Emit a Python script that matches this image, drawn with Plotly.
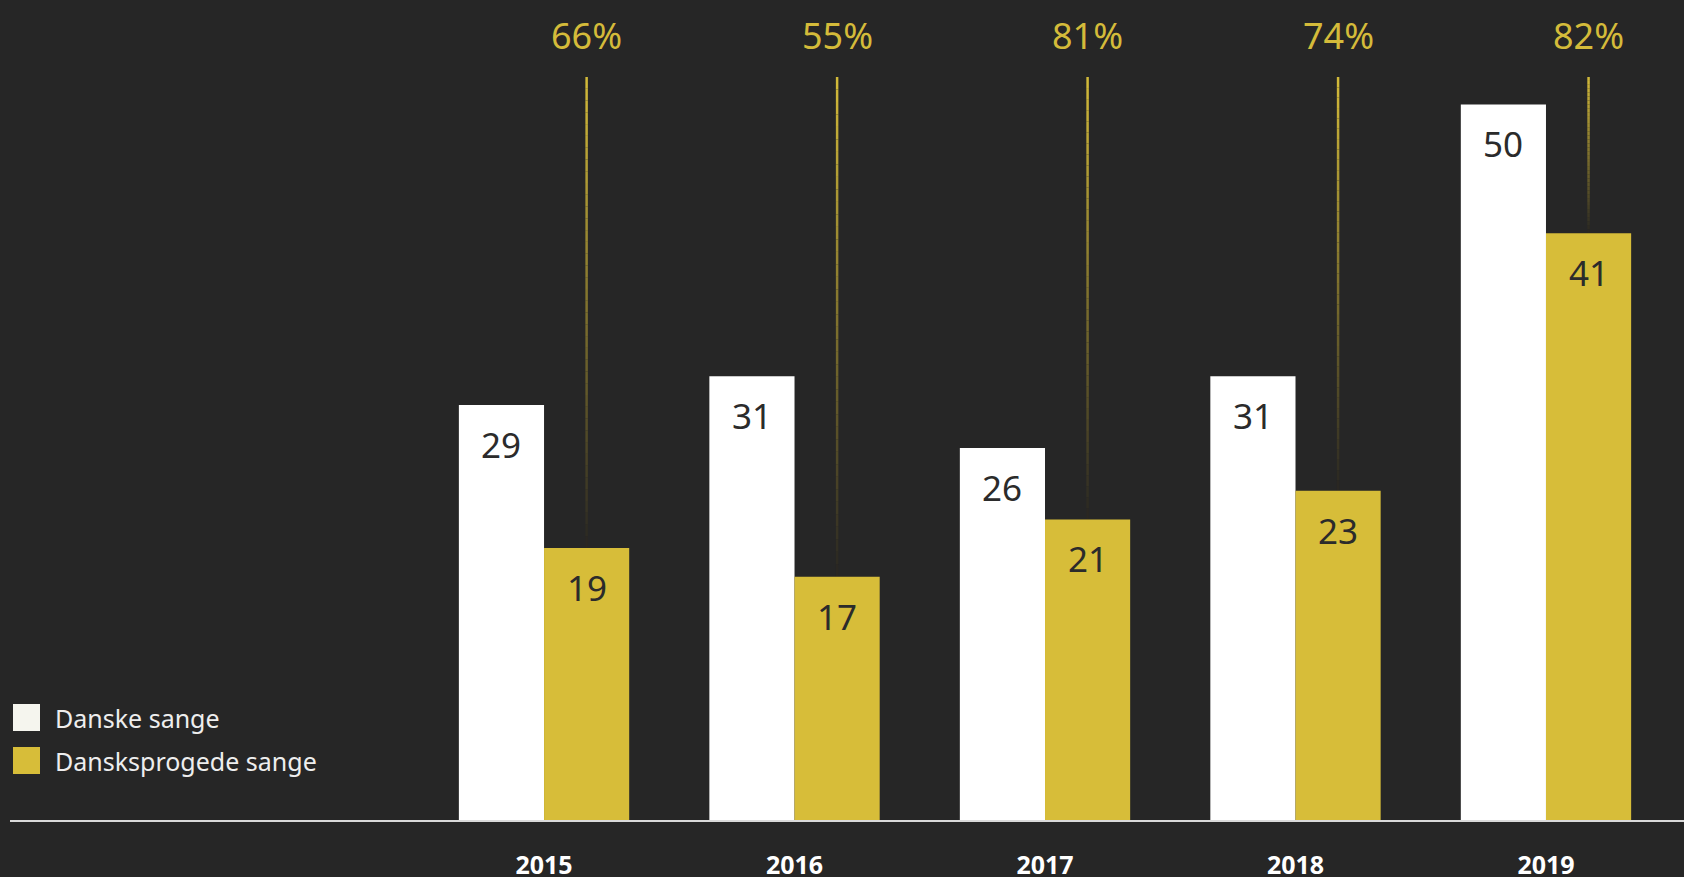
import plotly.graph_objects as go

years = [2015, 2016, 2017, 2018, 2019]
danske = [29, 31, 26, 31, 50]
dansksprogede = [19, 17, 21, 23, 41]
pct_labels = ["66%", "55%", "81%", "74%", "82%"]
series_names = ["Danske sange", "Dansksprogede sange"]

BG = "#262626"
WHITE = "#ffffff"
YELLOW = "#d7bd39"
DARK_TXT = "#2b2b2b"
FONT = "Noto Sans"

W, H = 1684, 877
M_L, M_R, M_T, M_B = 10, 0, 0, 57
PLOT_H = H - M_T - M_B
Y_MAX = 57.3
BAR_W = 0.34
X_RANGE = [2012.868, 2019.551]

def px_to_paper_y(py):
    return 1 - (py - M_T) / PLOT_H

def px_to_data_y(py):
    return (1 - (py - M_T) / PLOT_H) * Y_MAX

fig = go.Figure()
fig.add_trace(go.Bar(x=years, y=danske, name=series_names[0], width=BAR_W, offset=-BAR_W,
                     marker=dict(color=WHITE, line=dict(width=0)), showlegend=False,
                     hoverinfo="x+y"))
fig.add_trace(go.Bar(x=years, y=dansksprogede, name=series_names[1], width=BAR_W, offset=0,
                     marker=dict(color=YELLOW, line=dict(width=0)), showlegend=False,
                     hoverinfo="x+y"))

shapes = []
annotations = []
line_top = px_to_data_y(77)
N = 40
for yr, d, s, p in zip(years, danske, dansksprogede, pct_labels):
    xc_w = yr - BAR_W / 2
    xc_y = yr + BAR_W / 2
    # gradient connector line
    for i in range(N):
        y0 = line_top - (line_top - s) * i / N
        y1 = line_top - (line_top - s) * (i + 1) / N
        t = (i + 0.5) / N
        r = int(212 * (1 - t) + 40 * t)
        g = int(187 * (1 - t) + 38 * t)
        b = int(58 * (1 - t) + 34 * t)
        shapes.append(dict(type="line", xref="x", yref="y", x0=xc_y, x1=xc_y, y0=y0, y1=y1,
                           line=dict(color=f"rgb({r},{g},{b})", width=2.5), layer="below"))
    annotations.append(dict(x=xc_y, y=px_to_paper_y(35), xref="x", yref="paper", text=p,
                            showarrow=False, font=dict(family=FONT, size=36, color="#d4bb3a"),
                            yanchor="middle"))
    annotations.append(dict(x=xc_w, y=d, xref="x", yref="y", text=str(d), showarrow=False,
                            yanchor="top", yshift=-14,
                            font=dict(family=FONT, size=35, color=DARK_TXT)))
    annotations.append(dict(x=xc_y, y=s, xref="x", yref="y", text=str(s), showarrow=False,
                            yanchor="top", yshift=-14,
                            font=dict(family=FONT, size=35, color=DARK_TXT)))

# manual legend
legend_colors = ["#f5f5ee", YELLOW]
legend_tops = [704, 747]
for name, col, top in zip(series_names, legend_colors, legend_tops):
    shapes.append(dict(type="rect", xref="paper", yref="paper",
                       x0=(13 - M_L) / (W - M_L - M_R), x1=(40 - M_L) / (W - M_L - M_R),
                       y0=px_to_paper_y(top + 27), y1=px_to_paper_y(top),
                       fillcolor=col, line=dict(width=0)))
    annotations.append(dict(x=(53 - M_L) / (W - M_L - M_R), y=px_to_paper_y(top + 13.5),
                            xref="paper", yref="paper", text=name, showarrow=False,
                            xanchor="left", yanchor="middle",
                            font=dict(family=FONT, size=25, color="#eeeeee")))

fig.update_layout(
    width=W, height=H,
    margin=dict(l=M_L, r=M_R, t=M_T, b=M_B, pad=0),
    paper_bgcolor=BG, plot_bgcolor=BG,
    barmode="overlay",
    shapes=shapes, annotations=annotations,
    showlegend=False,
    xaxis=dict(range=X_RANGE, tickvals=years, ticktext=[str(y) for y in years],
               showgrid=False, zeroline=False, showline=True, linecolor="#d9d9d9", linewidth=2,
               ticks="", ticklabelstandoff=22, automargin=False,
               tickfont=dict(family=FONT, size=25, color=WHITE, weight="bold")),
    yaxis=dict(range=[0, Y_MAX], visible=False, showgrid=False, zeroline=False, fixedrange=True),
)

fig.write_html(
    "out.html",
    config={"displayModeBar": False},
    post_script="document.body.style.margin='0';document.body.style.background='#262626';"
                "document.body.style.overflow='hidden';",
)
